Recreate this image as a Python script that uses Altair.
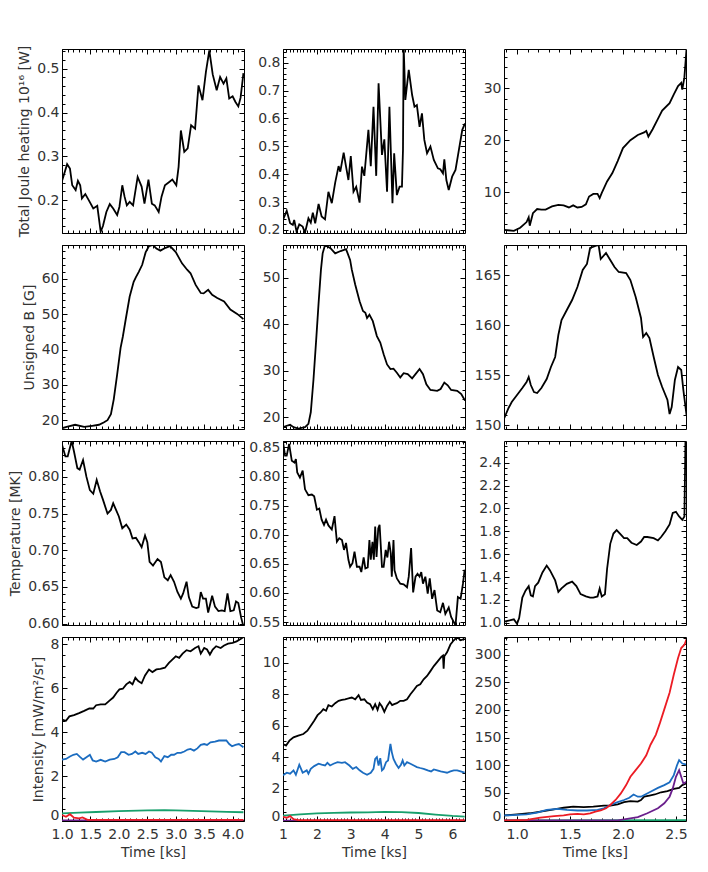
import altair as alt
import pandas as pd
import numpy as np

# ---------------- Column A (left) ----------------
JA_T = [1.00, 1.02, 1.09, 1.14, 1.18, 1.24, 1.28, 1.32, 1.35, 1.41, 1.47, 1.55, 1.62, 1.68, 1.72, 1.78, 1.84, 1.90, 1.97, 2.01,
        2.06, 2.10, 2.14, 2.19, 2.25, 2.33, 2.40, 2.45, 2.52, 2.58, 2.63, 2.70, 2.75, 2.81, 2.88, 2.94, 3.01, 3.05, 3.09, 3.15,
        3.21, 3.27, 3.34, 3.40, 3.47, 3.53, 3.59, 3.65, 3.72, 3.78, 3.84, 3.89, 3.94, 4.00, 4.05, 4.10, 4.14, 4.19]
JA_V = [0.261, 0.252, 0.282, 0.272, 0.234, 0.223, 0.244, 0.234, 0.204, 0.214, 0.200, 0.181, 0.187, 0.128, 0.141, 0.173, 0.191, 0.181, 0.166, 0.185,
        0.234, 0.208, 0.188, 0.196, 0.188, 0.253, 0.231, 0.192, 0.247, 0.192, 0.188, 0.173, 0.208, 0.234, 0.241, 0.247, 0.234, 0.276, 0.359, 0.310,
        0.318, 0.371, 0.363, 0.462, 0.428, 0.492, 0.542, 0.487, 0.451, 0.481, 0.466, 0.478, 0.432, 0.437, 0.424, 0.414, 0.434, 0.490]

BA_T = [1.00, 1.08, 1.23, 1.39, 1.53, 1.65, 1.74, 1.80, 1.86, 1.91, 1.97, 2.03, 2.07, 2.12, 2.19, 2.26, 2.30, 2.35, 2.41, 2.47,
        2.53, 2.60, 2.66, 2.73, 2.82, 2.90, 3.00, 3.11, 3.20, 3.26, 3.35, 3.44, 3.49, 3.57, 3.64, 3.73, 3.85, 3.96, 4.08, 4.19]
BA_V = [17.7, 18.1, 18.7, 18.1, 18.4, 18.7, 19.4, 20.0, 21.7, 25.9, 33.0, 40.5, 43.7, 48.5, 55.0, 59.2, 60.5, 62.0, 64.0, 67.5,
        69.3, 69.6, 68.6, 68.0, 68.8, 69.3, 67.6, 64.4, 62.6, 61.6, 58.3, 56.0, 55.9, 56.9, 55.5, 54.6, 53.6, 51.3, 50.1, 48.6]

TA_T = [1.00, 1.06, 1.10, 1.17, 1.21, 1.27, 1.31, 1.37, 1.43, 1.49, 1.55, 1.61, 1.67, 1.72, 1.80, 1.86, 1.90, 1.95, 2.00, 2.06,
        2.13, 2.19, 2.24, 2.30, 2.35, 2.40, 2.46, 2.50, 2.54, 2.60, 2.68, 2.74, 2.80, 2.86, 2.91, 2.97, 3.03, 3.09, 3.13, 3.19,
        3.23, 3.29, 3.36, 3.40, 3.44, 3.48, 3.53, 3.57, 3.64, 3.69, 3.75, 3.81, 3.86, 3.91, 3.96, 4.02, 4.06, 4.10, 4.15, 4.19]
TA_V = [0.844, 0.828, 0.828, 0.849, 0.835, 0.812, 0.810, 0.823, 0.800, 0.782, 0.777, 0.796, 0.780, 0.769, 0.750, 0.755, 0.764, 0.755, 0.746, 0.730,
        0.735, 0.728, 0.716, 0.717, 0.711, 0.704, 0.720, 0.711, 0.684, 0.679, 0.688, 0.684, 0.663, 0.659, 0.666, 0.657, 0.643, 0.634, 0.641, 0.657,
        0.636, 0.623, 0.621, 0.622, 0.643, 0.634, 0.634, 0.615, 0.638, 0.623, 0.617, 0.618, 0.617, 0.641, 0.617, 0.618, 0.630, 0.628, 0.608, 0.596]

IA_K_T = [1.00, 1.07, 1.13, 1.21, 1.30, 1.39, 1.48, 1.55, 1.60, 1.68, 1.76, 1.83, 1.90, 1.96, 2.01, 2.07, 2.13, 2.19, 2.24, 2.29,
          2.34, 2.40, 2.46, 2.53, 2.59, 2.66, 2.73, 2.81, 2.88, 2.94, 3.00, 3.06, 3.12, 3.19, 3.26, 3.34, 3.40, 3.44, 3.50, 3.55,
          3.60, 3.65, 3.71, 3.79, 3.85, 3.92, 4.00, 4.07, 4.14, 4.19]
IA_K_V = [4.57, 4.52, 4.72, 4.78, 4.87, 4.97, 5.08, 5.08, 5.23, 5.27, 5.27, 5.43, 5.58, 5.80, 5.95, 5.98, 6.18, 6.29, 6.18, 6.48,
          6.33, 6.23, 6.59, 6.86, 6.74, 6.86, 6.89, 6.94, 7.16, 7.31, 7.46, 7.39, 7.58, 7.74, 7.69, 7.84, 7.92, 7.58, 7.84, 7.77,
          7.54, 7.77, 7.92, 7.84, 7.95, 8.04, 8.07, 8.14, 8.25, 8.34]
IA_B_T = [1.00, 1.07, 1.14, 1.20, 1.26, 1.32, 1.37, 1.43, 1.49, 1.54, 1.60, 1.68, 1.76, 1.84, 1.92, 1.98, 2.04, 2.10, 2.17, 2.23,
          2.29, 2.34, 2.41, 2.47, 2.53, 2.58, 2.64, 2.70, 2.74, 2.80, 2.86, 2.92, 2.97, 3.03, 3.09, 3.15, 3.21, 3.26, 3.32, 3.38,
          3.44, 3.50, 3.55, 3.61, 3.69, 3.76, 3.83, 3.89, 3.94, 3.99, 4.05, 4.11, 4.19]
IA_B_V = [2.75, 2.78, 2.89, 2.97, 3.01, 2.86, 2.75, 2.86, 2.97, 2.71, 2.66, 2.74, 2.66, 2.75, 2.78, 2.86, 3.09, 3.09, 2.97, 3.01,
          3.12, 3.01, 3.06, 3.01, 3.12, 3.06, 2.86, 2.78, 2.66, 2.91, 2.86, 2.97, 2.97, 3.06, 3.06, 3.12, 3.21, 3.24, 3.16, 3.26,
          3.42, 3.46, 3.42, 3.54, 3.57, 3.62, 3.62, 3.62, 3.46, 3.36, 3.42, 3.46, 3.31]
IA_G_T = [1.0, 1.3, 1.6, 2.0, 2.5, 2.8, 3.0, 3.3, 3.6, 3.9, 4.19]
IA_G_V = [0.30, 0.33, 0.36, 0.40, 0.43, 0.45, 0.43, 0.41, 0.39, 0.37, 0.35]
IA_P_T = [1.0, 4.19]
IA_P_V = [-0.02, -0.02]
IA_R_T = [1.00, 1.07, 1.14, 1.21, 1.30, 1.36, 1.45, 1.54, 4.19]
IA_R_V = [0.22, 0.14, 0.26, 0.10, 0.07, 0.11, 0.0, 0.0, 0.0]

# ---------------- Column B (middle) ----------------
JB_T = [1.00, 1.11, 1.21, 1.29, 1.33, 1.40, 1.48, 1.58, 1.65, 1.75, 1.82, 1.88, 1.95, 2.05, 2.14, 2.24, 2.34, 2.44, 2.54, 2.64,
        2.69, 2.79, 2.86, 2.93, 3.00, 3.08, 3.16, 3.26, 3.33, 3.40, 3.52, 3.59, 3.67, 3.75, 3.82, 3.92, 3.99, 4.07, 4.14, 4.23,
        4.28, 4.36, 4.44, 4.51, 4.54, 4.56, 4.61, 4.71, 4.81, 4.88, 4.95, 5.03, 5.10, 5.17, 5.25, 5.35, 5.45, 5.57, 5.64, 5.72,
        5.76, 5.82, 5.89, 5.99, 6.09, 6.19, 6.29, 6.37]
JB_V = [0.236, 0.269, 0.224, 0.218, 0.236, 0.194, 0.220, 0.212, 0.190, 0.242, 0.226, 0.262, 0.224, 0.293, 0.248, 0.238, 0.337, 0.296, 0.370, 0.429,
        0.409, 0.477, 0.427, 0.379, 0.465, 0.337, 0.355, 0.298, 0.427, 0.394, 0.559, 0.429, 0.642, 0.394, 0.726, 0.469, 0.525, 0.337, 0.642, 0.296,
        0.475, 0.325, 0.355, 0.355, 0.487, 0.860, 0.666, 0.774, 0.684, 0.642, 0.648, 0.570, 0.618, 0.523, 0.475, 0.499, 0.451, 0.421, 0.418, 0.403,
        0.453, 0.379, 0.343, 0.391, 0.415, 0.487, 0.559, 0.582]

BB_T = [1.00, 1.11, 1.21, 1.31, 1.45, 1.65, 1.75, 1.82, 1.90, 1.98, 2.05, 2.12, 2.17, 2.24, 2.40, 2.54, 2.70, 2.86, 2.98, 3.03,
        3.13, 3.26, 3.36, 3.43, 3.48, 3.55, 3.65, 3.77, 3.87, 3.97, 4.07, 4.17, 4.26, 4.36, 4.46, 4.56, 4.68, 4.81, 4.91, 5.03,
        5.13, 5.23, 5.35, 5.55, 5.65, 5.76, 5.86, 5.96, 6.14, 6.26, 6.37]
BB_V = [17.9, 18.2, 18.4, 17.9, 17.6, 17.9, 18.6, 21.1, 28.2, 36.8, 44.6, 51.8, 55.3, 57.1, 56.4, 55.3, 55.8, 56.2, 53.9, 51.8,
        48.6, 45.0, 42.9, 42.5, 41.4, 42.1, 40.7, 37.5, 36.1, 33.6, 31.4, 30.4, 30.5, 29.6, 28.6, 29.5, 29.3, 28.4, 29.3, 30.4,
        29.3, 27.1, 25.9, 25.7, 26.1, 27.5, 26.9, 25.9, 25.7, 25.0, 23.6]

TB_T = [1.00, 1.06, 1.11, 1.18, 1.26, 1.34, 1.38, 1.42, 1.50, 1.58, 1.65, 1.75, 1.85, 1.92, 2.00, 2.07, 2.14, 2.21, 2.27, 2.34,
        2.44, 2.52, 2.59, 2.66, 2.74, 2.80, 2.86, 2.93, 2.98, 3.05, 3.11, 3.18, 3.26, 3.31, 3.38, 3.43, 3.50, 3.55, 3.59, 3.64,
        3.68, 3.72, 3.76, 3.81, 3.85, 3.92, 3.97, 4.03, 4.08, 4.13, 4.18, 4.21, 4.26, 4.29, 4.36, 4.46, 4.56, 4.66, 4.71, 4.78,
        4.84, 4.91, 4.97, 5.03, 5.08, 5.13, 5.20, 5.27, 5.33, 5.40, 5.47, 5.55, 5.64, 5.72, 5.79, 5.89, 5.96, 6.04, 6.09, 6.16,
        6.24, 6.31, 6.36]
TB_V = [0.860, 0.836, 0.836, 0.856, 0.827, 0.824, 0.830, 0.807, 0.798, 0.810, 0.778, 0.768, 0.769, 0.766, 0.743, 0.745, 0.726, 0.717, 0.726, 0.716,
        0.709, 0.732, 0.688, 0.694, 0.691, 0.674, 0.686, 0.657, 0.645, 0.651, 0.671, 0.645, 0.645, 0.636, 0.661, 0.642, 0.644, 0.691, 0.657, 0.688,
        0.657, 0.714, 0.662, 0.711, 0.717, 0.645, 0.645, 0.674, 0.661, 0.688, 0.668, 0.628, 0.691, 0.639, 0.625, 0.616, 0.615, 0.610, 0.628, 0.677,
        0.601, 0.628, 0.633, 0.628, 0.636, 0.616, 0.628, 0.599, 0.625, 0.590, 0.605, 0.570, 0.567, 0.583, 0.564, 0.575, 0.559, 0.550, 0.544, 0.593,
        0.590, 0.616, 0.640]

IB_K_T = [1.00, 1.09, 1.19, 1.31, 1.45, 1.60, 1.72, 1.82, 1.92, 2.02, 2.11, 2.19, 2.27, 2.34, 2.44, 2.54, 2.64, 2.74, 2.83, 2.93,
          3.03, 3.13, 3.23, 3.30, 3.40, 3.48, 3.57, 3.65, 3.72, 3.79, 3.85, 3.92, 3.99, 4.07, 4.15, 4.22, 4.28, 4.36, 4.46, 4.56,
          4.66, 4.76, 4.86, 4.95, 5.05, 5.15, 5.25, 5.35, 5.45, 5.57, 5.67, 5.72, 5.74, 5.76, 5.84, 5.94, 6.04, 6.14, 6.24, 6.36]
IB_K_V = [4.84, 4.74, 5.05, 5.26, 5.37, 5.47, 5.68, 6.00, 6.32, 6.67, 6.84, 7.05, 6.95, 7.31, 7.22, 7.43, 7.58, 7.64, 7.68, 7.73,
          7.79, 7.68, 7.94, 7.64, 7.68, 7.47, 7.37, 7.05, 7.37, 7.01, 7.43, 7.22, 6.88, 7.26, 7.52, 7.31, 7.37, 7.43, 7.58, 7.58,
          7.68, 8.00, 8.27, 8.53, 8.63, 8.95, 9.16, 9.47, 9.79, 10.11, 10.38, 10.46, 9.62, 10.42, 10.67, 11.16, 11.43, 11.64, 11.43, 11.52]
IB_B_T = [1.00, 1.11, 1.21, 1.31, 1.38, 1.48, 1.58, 1.70, 1.75, 1.82, 1.92, 2.05, 2.14, 2.24, 2.31, 2.39, 2.49, 2.61, 2.74, 2.83,
          2.96, 3.06, 3.16, 3.26, 3.36, 3.48, 3.59, 3.67, 3.72, 3.77, 3.82, 3.87, 3.92, 3.97, 4.04, 4.10, 4.17, 4.21, 4.26, 4.33,
          4.41, 4.48, 4.53, 4.58, 4.66, 4.76, 4.86, 4.95, 5.05, 5.15, 5.27, 5.37, 5.45, 5.55, 5.65, 5.76, 5.84, 5.94, 6.04, 6.14,
          6.24, 6.36]
IB_B_V = [2.84, 3.01, 2.95, 3.16, 2.88, 3.52, 3.01, 3.16, 2.95, 3.26, 3.43, 3.58, 3.52, 3.47, 3.64, 3.47, 3.58, 3.68, 3.64, 3.68,
          3.47, 3.26, 3.37, 3.16, 3.01, 2.88, 3.01, 3.26, 3.89, 4.00, 3.47, 3.94, 3.16, 3.26, 3.68, 3.79, 4.84, 4.32, 3.89, 3.58,
          3.31, 3.52, 3.79, 3.47, 3.68, 3.58, 3.47, 3.37, 3.31, 3.26, 3.16, 3.09, 3.22, 3.16, 3.09, 3.05, 3.01, 3.09, 3.16, 3.16,
          3.09, 3.01]
IB_G_T = [1.0, 1.5, 2.0, 2.5, 3.0, 3.5, 4.0, 4.5, 5.0, 5.5, 6.0, 6.36]
IB_G_V = [0.28, 0.36, 0.42, 0.46, 0.48, 0.49, 0.52, 0.50, 0.45, 0.35, 0.26, 0.22]
IB_P_T = [1.0, 6.36]
IB_P_V = [-0.03, -0.03]
IB_R_T = [1.00, 1.11, 1.21, 1.31, 1.45, 6.36]
IB_R_V = [0.21, 0.15, 0.25, 0.06, 0.0, 0.0]

# ---------------- Column C (right) ----------------
JC_T = [0.88, 0.97, 1.03, 1.09, 1.11, 1.12, 1.15, 1.19, 1.23, 1.27, 1.33, 1.39, 1.44, 1.49, 1.53, 1.57, 1.61, 1.65, 1.68, 1.72,
        1.76, 1.78, 1.80, 1.85, 1.90, 1.95, 2.00, 2.07, 2.14, 2.20, 2.22, 2.24, 2.28, 2.33, 2.37, 2.44, 2.48, 2.52, 2.55, 2.56,
        2.58, 2.60]
JC_V = [2.8, 2.6, 3.2, 4.3, 5.2, 3.6, 6.0, 6.8, 6.7, 6.7, 7.3, 7.6, 7.5, 7.1, 7.5, 7.1, 7.2, 7.7, 9.2, 9.7,
        9.7, 8.9, 9.9, 12.1, 13.7, 16.0, 18.5, 20.0, 21.0, 21.5, 21.8, 20.7, 22.1, 24.1, 25.7, 27.1, 28.8, 30.4, 31.0, 29.7,
        32.1, 37.5]

BC_T = [0.88, 0.92, 0.95, 1.00, 1.05, 1.09, 1.11, 1.13, 1.16, 1.19, 1.23, 1.28, 1.32, 1.36, 1.39, 1.42, 1.47, 1.52, 1.57, 1.62,
        1.66, 1.69, 1.74, 1.77, 1.79, 1.84, 1.88, 1.92, 1.96, 2.03, 2.07, 2.12, 2.17, 2.19, 2.22, 2.25, 2.29, 2.33, 2.37, 2.42,
        2.44, 2.46, 2.49, 2.52, 2.55, 2.57, 2.60]
BC_V = [150.7, 151.7, 152.3, 153.0, 153.7, 154.3, 154.8, 154.0, 153.3, 153.2, 153.7, 154.6, 155.8, 156.8, 159.0, 160.5, 161.5, 162.5, 163.8, 165.5,
        166.1, 167.7, 167.9, 168.0, 166.6, 167.2, 166.5, 165.8, 165.3, 165.2, 164.5, 162.8, 160.7, 158.8, 159.2, 158.7, 156.8, 155.0, 153.8, 152.5,
        151.1, 151.8, 154.5, 155.8, 155.5, 153.5, 151.0]

TC_T = [0.88, 0.93, 0.97, 1.00, 1.02, 1.05, 1.08, 1.11, 1.13, 1.15, 1.17, 1.20, 1.24, 1.28, 1.31, 1.36, 1.39, 1.42, 1.47, 1.52,
        1.56, 1.60, 1.65, 1.69, 1.72, 1.76, 1.78, 1.80, 1.83, 1.85, 1.88, 1.91, 1.94, 1.98, 2.01, 2.04, 2.08, 2.13, 2.17, 2.20,
        2.23, 2.29, 2.33, 2.36, 2.40, 2.44, 2.47, 2.50, 2.53, 2.56, 2.58, 2.59]
TC_V = [1.01, 1.02, 1.03, 0.99, 1.04, 1.22, 1.28, 1.32, 1.24, 1.23, 1.32, 1.35, 1.44, 1.50, 1.46, 1.37, 1.27, 1.30, 1.34, 1.36,
        1.32, 1.25, 1.23, 1.22, 1.22, 1.23, 1.30, 1.23, 1.25, 1.47, 1.69, 1.78, 1.81, 1.77, 1.74, 1.74, 1.70, 1.68, 1.71, 1.75,
        1.75, 1.74, 1.72, 1.75, 1.80, 1.86, 1.96, 1.97, 1.93, 1.90, 1.93, 2.60]

IC_K_T = [0.88, 1.00, 1.12, 1.25, 1.35, 1.44, 1.53, 1.63, 1.72, 1.82, 1.88, 1.95, 2.01, 2.07, 2.14, 2.17, 2.20, 2.25, 2.30, 2.36,
          2.42, 2.48, 2.53, 2.56, 2.60]
IC_K_V = [9, 11, 13, 17, 20, 23, 25, 24, 25, 27, 27, 29, 33, 35, 34, 37, 43, 45, 47, 51, 53, 57, 59, 64, 67]
IC_B_T = [0.88, 1.00, 1.09, 1.19, 1.28, 1.38, 1.47, 1.57, 1.66, 1.76, 1.82, 1.88, 1.95, 2.01, 2.06, 2.10, 2.14, 2.17, 2.21, 2.26,
          2.33, 2.39, 2.44, 2.48, 2.51, 2.53, 2.56, 2.60]
IC_B_V = [9, 10, 11, 14, 19, 21, 19, 18, 18, 19, 22, 28, 33, 37, 41, 47, 43, 43, 47, 52, 59, 64, 69, 82, 100, 109, 103, 101]
IC_G_T = [0.88, 2.60]
IC_G_V = [0.0, 0.5]
IC_P_T = [0.88, 1.72, 1.95, 2.04, 2.14, 2.23, 2.33, 2.39, 2.44, 2.47, 2.50, 2.53, 2.55, 2.57, 2.60]
IC_P_V = [0, 0, 0.3, 3, 6, 13, 22, 31, 43, 58, 79, 91, 79, 67, 70]
IC_R_T = [0.88, 1.09, 1.22, 1.35, 1.44, 1.50, 1.57, 1.63, 1.69, 1.74, 1.79, 1.84, 1.88, 1.93, 1.98, 2.03, 2.07, 2.12, 2.17, 2.22,
          2.26, 2.31, 2.35, 2.39, 2.44, 2.48, 2.52, 2.55, 2.58, 2.60]
IC_R_V = [0, 1, 5, 8, 9, 11, 12, 11, 13, 16, 18, 22, 28, 37, 49, 64, 79, 91, 103, 118, 137, 155, 177, 201, 231, 264, 294, 312, 318, 328]

SERIES = ["k", "b", "g", "p", "r"]
SERIES_COLORS = ["#000000", "#1b6cc0", "#17a06c", "#6a1f8c", "#ec1c24"]
FONT = "DejaVu Sans"
TXT = "#333333"
W, H = 182, 184


def ticks_in(lo, hi, step):
    start = np.ceil(lo / step - 1e-9) * step
    vals = np.arange(start, hi + 1e-9, step)
    return [round(float(v), 6) for v in vals]


def panel(series, xdom, ydom, xstep, xminor, ystep, yminor, xfmt, yfmt, ytitle, show_x):
    rows = []
    for name, ts, vs in series:
        assert len(ts) == len(vs)
        for t, v in zip(ts, vs):
            rows.append({"t": t, "v": v, "s": name})
    df = pd.DataFrame(rows)
    xs = alt.Scale(domain=list(xdom), nice=False, zero=False)
    ys = alt.Scale(domain=list(ydom), nice=False, zero=False)

    xkw = dict(orient="bottom", values=ticks_in(*xdom, xstep), format=xfmt, labels=show_x,
               ticks=False, tickSize=0, domain=False, grid=False, labelFlush=False,
               labelOverlap=False, labelPadding=6)
    if show_x:
        xkw.update(title="Time [ks]", titlePadding=4)
    else:
        xkw.update(title=None)
    ykw = dict(orient="left", values=ticks_in(*ydom, ystep), format=yfmt, ticks=False, tickSize=0,
               domain=False, grid=False, labelFlush=False, labelOverlap=False, labelPadding=3)
    if show_x:
        ykw.update(labelOffset={"expr": "datum.value == 0 ? -4 : 0"})
    if ytitle:
        ykw.update(title=ytitle, titlePadding=5)
    else:
        ykw.update(title=None)

    lines = alt.Chart(df).mark_line(strokeWidth=1.8, clip=True).encode(
        x=alt.X("t:Q", scale=xs, axis=alt.Axis(**xkw)),
        y=alt.Y("v:Q", scale=ys, axis=alt.Axis(**ykw)),
        color=alt.Color("s:N", scale=alt.Scale(domain=SERIES, range=SERIES_COLORS), legend=None),
    )

    anchor = pd.DataFrame({"t": [xdom[0]], "v": [ydom[0]]})
    layers = [lines]
    specs = [("bottom", "left", xstep, ystep, 5), ("bottom", "left", xminor, yminor, 3),
             ("top", "right", xstep, ystep, 5), ("top", "right", xminor, yminor, 3)]
    for xo, yo, xst, yst, size in specs:
        tx = alt.Axis(orient=xo, values=ticks_in(*xdom, xst), labels=False, domain=False, grid=False,
                      ticks=True, tickSize=size, offset=-size, tickColor="#000", tickWidth=1, title=None)
        ty = alt.Axis(orient=yo, values=ticks_in(*ydom, yst), labels=False, domain=False, grid=False,
                      ticks=True, tickSize=size, offset=-size, tickColor="#000", tickWidth=1, title=None)
        layers.append(alt.Chart(anchor).mark_point(opacity=0, clip=True).encode(
            x=alt.X("t:Q", scale=xs, axis=tx), y=alt.Y("v:Q", scale=ys, axis=ty)))
    return alt.layer(*layers).resolve_axis(x="independent", y="independent").properties(width=W, height=H)


XA, XB, XC = (1.0, 4.2), (1.0, 6.37), (0.877, 2.595)

panels = [
    panel([("k", JA_T, JA_V)], XA, (0.125, 0.545), 0.5, 0.1, 0.1, 0.02, ".1f", ".1f",
          "Total Joule heating 10\u00b9\u2076 [W]", False),
    panel([("k", JB_T, JB_V)], XB, (0.189, 0.849), 1, 0.1, 0.1, 0.02, "d", ".1f", None, False),
    panel([("k", JC_T, JC_V)], XC, (2.2, 37.5), 0.5, 0.1, 10, 2, ".1f", "d", None, False),

    panel([("k", BA_T, BA_V)], XA, (17.5, 69.6), 0.5, 0.1, 10, 2, ".1f", "d", "Unsigned B [G]", False),
    panel([("k", BB_T, BB_V)], XB, (17.5, 57.1), 1, 0.1, 10, 2, "d", "d", None, False),
    panel([("k", BC_T, BC_V)], XC, (149.6, 168.0), 0.5, 0.1, 5, 1, ".1f", "d", None, False),

    panel([("k", TA_T, TA_V)], XA, (0.598, 0.849), 0.5, 0.1, 0.05, 0.01, ".1f", ".2f", "Temperature [MK]", False),
    panel([("k", TB_T, TB_V)], XB, (0.545, 0.861), 1, 0.1, 0.05, 0.01, "d", ".2f", None, False),
    panel([("k", TC_T, TC_V)], XC, (0.98, 2.59), 0.5, 0.1, 0.2, 0.05, ".1f", ".1f", None, False),

    panel([("k", IA_K_T, IA_K_V), ("b", IA_B_T, IA_B_V), ("g", IA_G_T, IA_G_V), ("p", IA_P_T, IA_P_V),
           ("r", IA_R_T, IA_R_V)], XA, (-0.05, 8.34), 0.5, 0.1, 2, 0.5, ".1f", "d",
          "Intensity [mW/m\u00b2/sr]", True),
    panel([("k", IB_K_T, IB_K_V), ("b", IB_B_T, IB_B_V), ("g", IB_G_T, IB_G_V), ("p", IB_P_T, IB_P_V),
           ("r", IB_R_T, IB_R_V)], XB, (-0.06, 11.64), 1, 0.1, 2, 0.5, "d", "d", None, True),
    panel([("k", IC_K_T, IC_K_V), ("b", IC_B_T, IC_B_V), ("g", IC_G_T, IC_G_V), ("p", IC_P_T, IC_P_V),
           ("r", IC_R_T, IC_R_V)], XC, (-1, 332), 0.5, 0.1, 50, 10, ".1f", "d", None, True),
]

chart = alt.concat(*panels, columns=3, spacing={"row": 12, "column": 39}, bounds="flush").properties(
    padding={"left": 0, "top": 36, "right": 5, "bottom": 5}, background="white"
).configure_view(stroke="#000000", strokeWidth=1).configure_axis(
    labelFont=FONT, labelFontSize=14, labelColor=TXT, titleFont=FONT, titleFontSize=14,
    titleFontWeight="normal", titleColor=TXT)

chart.save("out.html", embed_options={"renderer": "svg", "actions": False})
